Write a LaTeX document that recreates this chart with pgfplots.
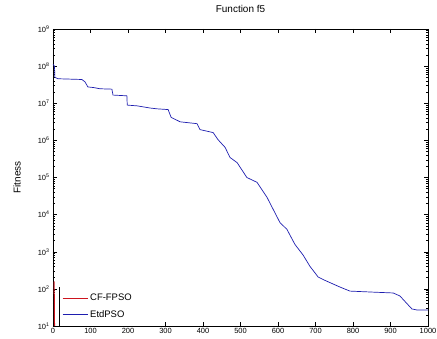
\documentclass[border=0pt]{standalone}
\usepackage{fontspec}
\setmainfont{Liberation Sans}
\usepackage{pgfplots}
\pgfplotsset{compat=1.18}
\definecolor{mblue}{RGB}{30,30,175}
\definecolor{mred}{RGB}{205,20,30}
\begin{document}
\begin{tikzpicture}
\useasboundingbox (-53bp,-13bp) rectangle (384bp,326bp);
\begin{axis}[at={(0,0)}, anchor=south west, scale only axis,
  width=375bp, height=297bp,
  xmin=0, xmax=1000, ymode=log, ymin=1e1, ymax=1e9,
  xtick={0,100,200,300,400,500,600,700,800,900,1000},
  ytick={1e1,1e2,1e3,1e4,1e5,1e6,1e7,1e8,1e9},
  yticklabels={10\textsuperscript{1},10\textsuperscript{2},10\textsuperscript{3},10\textsuperscript{4},10\textsuperscript{5},10\textsuperscript{6},10\textsuperscript{7},10\textsuperscript{8},10\textsuperscript{9}},
  xticklabels={0,100,200,300,400,500,600,700,800,900,1000},
  tick align=inside, major tick length=4bp, minor tick length=2bp,
  tick style={black, line width=0.4pt}, axis line style={line width=0.5pt},
  ticklabel style={font=\fontsize{7.5}{8}\selectfont},
  xticklabel style={yshift=1bp},
  title={Function f5},
  title style={font=\fontsize{10}{11}\selectfont, at={(axis description cs:0.5,1.047)}, anchor=center},
  ylabel={Fitness},
  ylabel style={font=\fontsize{10}{11}\selectfont, at={(axis description cs:-0.096,0.5)}, anchor=center},
  legend style={name=leg, at={(axis description cs:0.016,0)}, anchor=south west, draw=none, fill=white,
    font=\fontsize{9.5}{10}\selectfont, inner xsep=3bp, inner ysep=5bp, row sep=4bp},
  legend cell align=left,
  legend image code/.code={\draw[#1] (3bp,0bp) -- (28bp,0bp);},
]
\addplot[mred, line width=1pt] coordinates {
(3,158) (3.5,50) (4.5,3) (1000,2)
};
\addlegendentry{CF-FPSO}
\addplot[mblue, line width=0.7pt] coordinates {
(0,1.122e8) (4,1e8) (5,5.0e7) (13,4.571e7) (77,4.365e7) (85,3.802e7) (93,2.754e7)
(110,2.630e7) (125,2.455e7) (157,2.399e7) (160,1.660e7) (197,1.585e7)
(198,8.913e6) (224,8.511e6) (260,7.413e6) (277,7.079e6) (307,6.761e6)
(315,4.169e6) (339,3.162e6) (384,2.818e6) (392,1.950e6) (427,1.622e6)
(440,1.047e6) (459,6.457e5) (472,3.467e5) (491,2.512e5) (517,1.0e5)
(544,7.413e4) (571,2.884e4) (605,6.166e3) (624,3.981e3) (645,1.585e3)
(667,8.128e2) (685,4.074e2) (707,2.089e2) (725,1.698e2) (765,1.122e2)
(792,87.10) (859,81.28) (907,77.62) (925,64.57) (957,28.84) (971,26.92) (1000,26.92)
};
\addlegendentry{EtdPSO}
\end{axis}
\draw[line width=0.5pt] (leg.north west) -- (leg.south west) -- (leg.south east);
\end{tikzpicture}
\end{document}
